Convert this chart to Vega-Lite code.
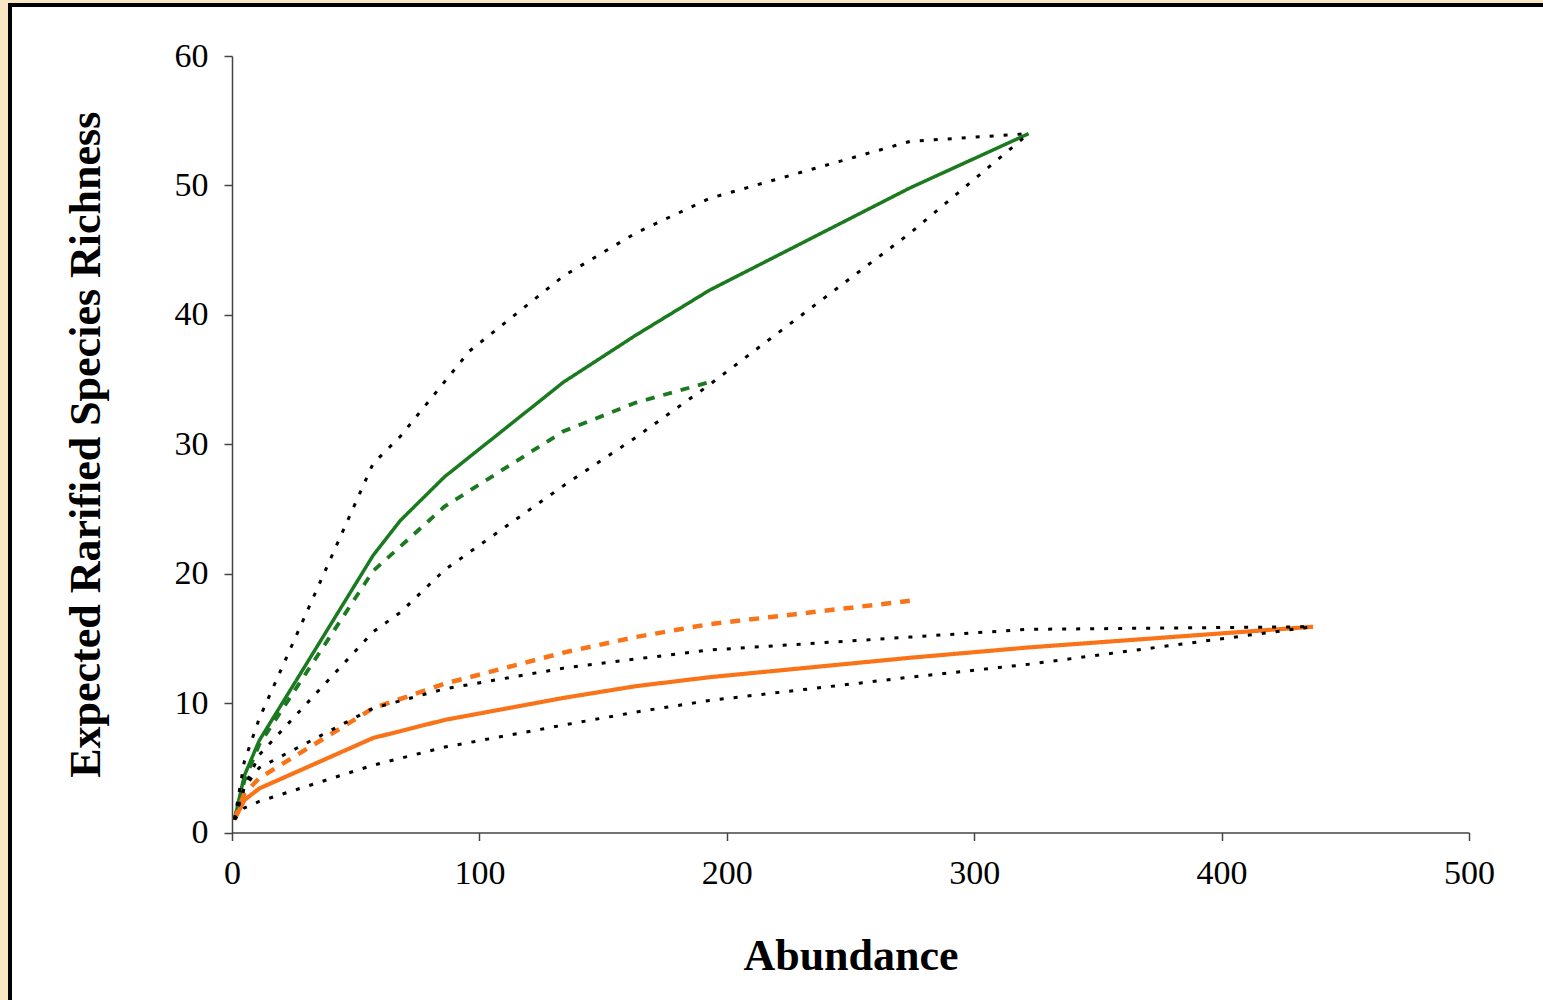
{
  "$schema": "https://vega.github.io/schema/vega-lite/v6.json",
  "width": 1537,
  "height": 999,
  "autosize": {"type": "none"},
  "padding": {"left": 10, "top": 5, "right": -4, "bottom": -4},
  "background": "#f8e7c2",
  "config": {
    "view": {"fill": "white", "stroke": "black", "strokeWidth": 4},
    "axis": {
      "grid": false,
      "domainColor": "#444444",
      "domainWidth": 1.5,
      "tickColor": "#444444",
      "tickWidth": 1.5,
      "tickSize": 8,
      "labelFont": "Liberation Serif",
      "labelFontSize": 34,
      "labelColor": "black",
      "labelFlush": false,
      "labelOverlap": false,
      "titleFont": "Liberation Serif",
      "titleFontSize": 44,
      "titleFontWeight": "bold",
      "titleColor": "black"
    }
  },
  "data": {
    "values": [
      {"s": "Green observed", "kind": "curve", "x": 1, "y": 1},
      {"s": "Green observed", "kind": "curve", "x": 5, "y": 4.4},
      {"s": "Green observed", "kind": "curve", "x": 11, "y": 7.1},
      {"s": "Green observed", "kind": "curve", "x": 57, "y": 21.4},
      {"s": "Green observed", "kind": "curve", "x": 68, "y": 24.1},
      {"s": "Green observed", "kind": "curve", "x": 86, "y": 27.5},
      {"s": "Green observed", "kind": "curve", "x": 134, "y": 34.8},
      {"s": "Green observed", "kind": "curve", "x": 163, "y": 38.4},
      {"s": "Green observed", "kind": "curve", "x": 193, "y": 41.9},
      {"s": "Green observed", "kind": "curve", "x": 274, "y": 49.8},
      {"s": "Green observed", "kind": "curve", "x": 322, "y": 54.0},

      {"s": "Green upper", "kind": "ci", "x": 1, "y": 1},
      {"s": "Green upper", "kind": "ci", "x": 5, "y": 5.5},
      {"s": "Green upper", "kind": "ci", "x": 11, "y": 8.8},
      {"s": "Green upper", "kind": "ci", "x": 57, "y": 28.5},
      {"s": "Green upper", "kind": "ci", "x": 68, "y": 30.6},
      {"s": "Green upper", "kind": "ci", "x": 96, "y": 37.2},
      {"s": "Green upper", "kind": "ci", "x": 134, "y": 43.0},
      {"s": "Green upper", "kind": "ci", "x": 163, "y": 46.3},
      {"s": "Green upper", "kind": "ci", "x": 193, "y": 49.0},
      {"s": "Green upper", "kind": "ci", "x": 274, "y": 53.4},
      {"s": "Green upper", "kind": "ci", "x": 322, "y": 54.0},

      {"s": "Green lower", "kind": "ci", "x": 1, "y": 1},
      {"s": "Green lower", "kind": "ci", "x": 5, "y": 3.5},
      {"s": "Green lower", "kind": "ci", "x": 11, "y": 6.0},
      {"s": "Green lower", "kind": "ci", "x": 57, "y": 15.5},
      {"s": "Green lower", "kind": "ci", "x": 68, "y": 17.0},
      {"s": "Green lower", "kind": "ci", "x": 86, "y": 20.3},
      {"s": "Green lower", "kind": "ci", "x": 134, "y": 26.8},
      {"s": "Green lower", "kind": "ci", "x": 163, "y": 30.5},
      {"s": "Green lower", "kind": "ci", "x": 193, "y": 34.6},
      {"s": "Green lower", "kind": "ci", "x": 274, "y": 46.3},
      {"s": "Green lower", "kind": "ci", "x": 322, "y": 54.0},

      {"s": "Green rarefied", "kind": "curve", "x": 1, "y": 1},
      {"s": "Green rarefied", "kind": "curve", "x": 5, "y": 4.0},
      {"s": "Green rarefied", "kind": "curve", "x": 11, "y": 6.8},
      {"s": "Green rarefied", "kind": "curve", "x": 57, "y": 20.2},
      {"s": "Green rarefied", "kind": "curve", "x": 86, "y": 25.2},
      {"s": "Green rarefied", "kind": "curve", "x": 134, "y": 31.0},
      {"s": "Green rarefied", "kind": "curve", "x": 163, "y": 33.2},
      {"s": "Green rarefied", "kind": "curve", "x": 193, "y": 34.8},

      {"s": "Orange observed", "kind": "curve", "x": 1, "y": 1},
      {"s": "Orange observed", "kind": "curve", "x": 5, "y": 2.5},
      {"s": "Orange observed", "kind": "curve", "x": 11, "y": 3.4},
      {"s": "Orange observed", "kind": "curve", "x": 57, "y": 7.3},
      {"s": "Orange observed", "kind": "curve", "x": 86, "y": 8.7},
      {"s": "Orange observed", "kind": "curve", "x": 134, "y": 10.4},
      {"s": "Orange observed", "kind": "curve", "x": 163, "y": 11.3},
      {"s": "Orange observed", "kind": "curve", "x": 193, "y": 12.0},
      {"s": "Orange observed", "kind": "curve", "x": 274, "y": 13.5},
      {"s": "Orange observed", "kind": "curve", "x": 322, "y": 14.3},
      {"s": "Orange observed", "kind": "curve", "x": 437, "y": 15.9},

      {"s": "Orange upper", "kind": "ci", "x": 1, "y": 1},
      {"s": "Orange upper", "kind": "ci", "x": 5, "y": 3.5},
      {"s": "Orange upper", "kind": "ci", "x": 11, "y": 5.0},
      {"s": "Orange upper", "kind": "ci", "x": 57, "y": 9.6},
      {"s": "Orange upper", "kind": "ci", "x": 86, "y": 11.1},
      {"s": "Orange upper", "kind": "ci", "x": 134, "y": 12.7},
      {"s": "Orange upper", "kind": "ci", "x": 163, "y": 13.4},
      {"s": "Orange upper", "kind": "ci", "x": 193, "y": 14.1},
      {"s": "Orange upper", "kind": "ci", "x": 274, "y": 15.1},
      {"s": "Orange upper", "kind": "ci", "x": 322, "y": 15.7},
      {"s": "Orange upper", "kind": "ci", "x": 437, "y": 15.9},

      {"s": "Orange lower", "kind": "ci", "x": 1, "y": 1},
      {"s": "Orange lower", "kind": "ci", "x": 5, "y": 1.9},
      {"s": "Orange lower", "kind": "ci", "x": 11, "y": 2.4},
      {"s": "Orange lower", "kind": "ci", "x": 57, "y": 5.2},
      {"s": "Orange lower", "kind": "ci", "x": 86, "y": 6.6},
      {"s": "Orange lower", "kind": "ci", "x": 134, "y": 8.3},
      {"s": "Orange lower", "kind": "ci", "x": 163, "y": 9.3},
      {"s": "Orange lower", "kind": "ci", "x": 193, "y": 10.2},
      {"s": "Orange lower", "kind": "ci", "x": 274, "y": 12.0},
      {"s": "Orange lower", "kind": "ci", "x": 322, "y": 13.0},
      {"s": "Orange lower", "kind": "ci", "x": 437, "y": 15.9},

      {"s": "Orange rarefied", "kind": "curve", "x": 1, "y": 1},
      {"s": "Orange rarefied", "kind": "curve", "x": 5, "y": 3.0},
      {"s": "Orange rarefied", "kind": "curve", "x": 11, "y": 4.2},
      {"s": "Orange rarefied", "kind": "curve", "x": 57, "y": 9.6},
      {"s": "Orange rarefied", "kind": "curve", "x": 86, "y": 11.5},
      {"s": "Orange rarefied", "kind": "curve", "x": 134, "y": 13.9},
      {"s": "Orange rarefied", "kind": "curve", "x": 163, "y": 15.1},
      {"s": "Orange rarefied", "kind": "curve", "x": 193, "y": 16.1},
      {"s": "Orange rarefied", "kind": "curve", "x": 274, "y": 17.9}
    ]
  },
  "encoding": {
    "x": {
      "field": "x",
      "type": "quantitative",
      "scale": {"domain": [0, 500], "range": [222, 1459], "nice": false, "zero": false},
      "axis": {
        "values": [0, 100, 200, 300, 400, 500],
        "offset": -171.5,
        "labelPadding": 16,
        "title": "Abundance",
        "titlePadding": 44
      }
    },
    "y": {
      "field": "y",
      "type": "quantitative",
      "scale": {"domain": [0, 60], "range": [827.5, 51], "nice": false, "zero": false},
      "axis": {
        "values": [0, 10, 20, 30, 40, 50, 60],
        "offset": -222,
        "labelPadding": 16,
        "title": "Expected Rarified Species Richness",
        "titlePadding": 66
      }
    }
  },
  "layer": [
    {
      "transform": [{"filter": "datum.kind == 'curve'"}],
      "mark": {"type": "line", "strokeCap": "butt"},
      "encoding": {
        "color": {
          "field": "s",
          "type": "nominal",
          "scale": {
            "domain": ["Green observed", "Green rarefied", "Orange observed", "Orange rarefied"],
            "range": ["#1b7a20", "#1b7a20", "#f97419", "#f97419"]
          },
          "legend": null
        },
        "strokeDash": {
          "field": "s",
          "type": "nominal",
          "scale": {
            "domain": ["Green observed", "Green rarefied", "Orange observed", "Orange rarefied"],
            "range": [[1, 0], [9, 9], [1, 0], [10, 9]]
          },
          "legend": null
        },
        "strokeWidth": {
          "field": "s",
          "type": "nominal",
          "scale": {
            "domain": ["Green observed", "Green rarefied", "Orange observed", "Orange rarefied"],
            "range": [3.5, 4.5, 3.5, 4]
          },
          "legend": null
        }
      }
    },
    {
      "transform": [{"filter": "datum.kind == 'ci'"}],
      "mark": {"type": "line", "color": "black", "strokeWidth": 3, "strokeDash": [4, 10]},
      "encoding": {
        "detail": {"field": "s", "type": "nominal"}
      }
    }
  ]
}
